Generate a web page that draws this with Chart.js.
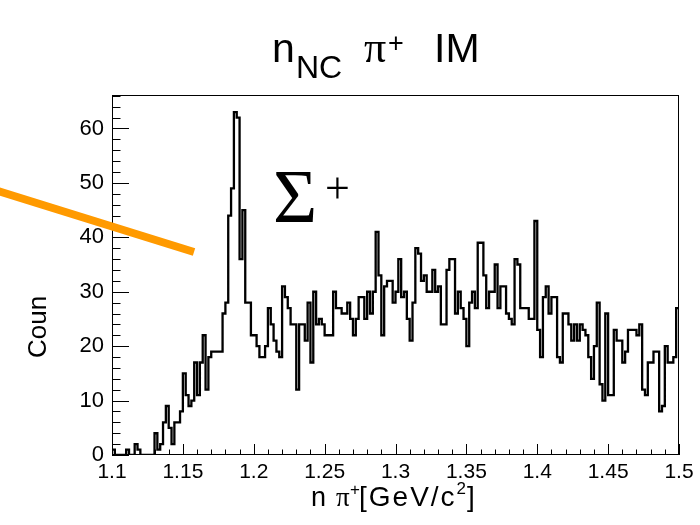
<!DOCTYPE html>
<html>
<head>
<meta charset="UTF-8">
<title>nNC pi+ IM</title>
<script src="https://cdn.jsdelivr.net/npm/chart.js@4.4.0/dist/chart.umd.min.js"></script>
<style>
  html, body { margin: 0; padding: 0; background: #fff; }
  #wrap { width: 700px; height: 525px; }
</style>
</head>
<body>
<div id="wrap"><canvas id="c" width="700" height="525"></canvas></div>
<script>
// 200 bins of 2 MeV between 1.1 and 1.5 GeV/c^2
const xMin = 1.1;
const xMax = 1.5;
const counts = [
  1, 0, 0, 0, 0,   1, 0, 0, 2, 1,   0, 0, 0, 0, 0,   4, 1, 2, 6, 9,
  5, 2, 6, 6, 8,   15, 11, 9, 10, 17,   11, 17, 22, 12, 18,   19, 19, 19, 19, 26,
  28, 44, 49, 63, 62,   36, 45, 28, 28, 22,   22, 20, 18, 18, 20,   27, 24, 21, 19, 18,
  31, 29, 27, 24, 24,   12, 24, 24, 21, 28,   17, 30, 24, 25, 24,   22, 22, 22, 30, 27,
  27, 26, 26, 28, 25,   22, 25, 29, 29, 25,   30, 26, 30, 41, 33,   22, 31, 32, 32, 28,
  30, 36, 29, 30, 25,   21, 28, 38, 37, 32,   33, 30, 30, 34, 30,   31, 24, 24, 34, 36,
  36, 26, 30, 27, 25,   20, 28, 30, 27, 39,   39, 33, 27, 30, 30,   35, 27, 31, 31, 26,
  25, 24, 36, 35, 27,   27, 27, 25, 25, 43,   23, 18, 29, 31, 26,   29, 29, 18, 17, 26,
  26, 24, 21, 24, 21,   24, 23, 22, 18, 14,   20, 28, 13, 10, 26,   11, 11, 23, 21, 21,
  17, 19, 23, 23, 23,   22, 24, 12, 11, 17,   17, 19, 19, 8, 9,   20, 17, 17, 18, 27
];
const xTickLabels = ['1.1', '1.15', '1.2', '1.25', '1.3', '1.35', '1.4', '1.45', '1.5'];
const yTickValues = [0, 10, 20, 30, 40, 50, 60];
const yMax = 63 * 1.05;

const binWidth = (xMax - xMin) / counts.length;
const outline = counts.map((v, i) => ({ x: xMin + i * binWidth, y: v }));
outline.push({ x: xMax, y: counts[counts.length - 1] });

// frame, inward ticks and the ROOT-style texts
const rootStyle = {
  id: 'rootStyle',
  afterDraw(chart) {
    const ctx = chart.ctx;
    const a = chart.chartArea;
    const xs = chart.scales.x, ys = chart.scales.y;
    ctx.save();
    ctx.strokeStyle = '#000';
    ctx.lineWidth = 1;
    ctx.strokeRect(a.left + 0.5, a.top + 0.5, a.right - a.left - 1, a.bottom - a.top - 1);

    ctx.beginPath();
    for (let k = 0; k <= 40; k++) {
      const px = Math.round(xs.getPixelForValue(xMin + k * 0.01)) + 0.5;
      const len = k % 5 === 0 ? 11 : 5.5;
      ctx.moveTo(px, a.bottom);
      ctx.lineTo(px, a.bottom - len);
    }
    for (let v = 0; v <= yMax; v += 2) {
      const py = Math.round(ys.getPixelForValue(v)) + 0.5;
      const len = v % 10 === 0 ? 17 : 8.5;
      ctx.moveTo(a.left, py);
      ctx.lineTo(a.left + len, py);
    }
    ctx.stroke();

    ctx.fillStyle = '#000';
    ctx.textBaseline = 'alphabetic';
    ctx.textAlign = 'left';

    // title
    ctx.font = '41px "Liberation Sans"';
    ctx.fillText('n', 272, 62);
    ctx.font = '32px "Liberation Sans"';
    ctx.fillText('NC', 296, 78);
    ctx.font = '44px "Liberation Serif"';
    ctx.fillText('\u03c0', 364, 62);
    ctx.font = '27px "Liberation Sans"';
    ctx.fillText('+', 388, 52);
    ctx.font = '41px "Liberation Sans"';
    ctx.fillText('IM', 434, 62);

    // Sigma+ label
    ctx.font = '76px "Liberation Serif"';
    ctx.fillText('\u03a3', 273, 222);
    ctx.font = '44px "Liberation Serif"';
    ctx.fillText('+', 325, 203);

    // x axis title
    const y0 = 506;
    ctx.font = '27px "Liberation Sans"';
    ctx.fillText('n', 311, y0);
    ctx.font = '27px "Liberation Serif"';
    ctx.fillText('\u03c0', 336, y0);
    ctx.font = '17px "Liberation Sans"';
    ctx.fillText('+', 350, y0 - 11);
    ctx.font = '28px "Liberation Sans"';
    ctx.letterSpacing = '2px';
    let x = 359;
    ctx.fillText('[GeV/c', x, y0); x += ctx.measureText('[GeV/c').width;
    ctx.letterSpacing = '0px';
    ctx.font = '17px "Liberation Sans"';
    ctx.fillText('2', x, y0 - 12); x += ctx.measureText('2').width + 1;
    ctx.font = '28px "Liberation Sans"';
    ctx.fillText(']', x, y0);

    // y axis title (cut in the source)
    ctx.save();
    ctx.translate(46, 358);
    ctx.rotate(-Math.PI / 2);
    ctx.font = '26px "Liberation Sans"';
    ctx.fillText('Coun', 0, 0);
    ctx.restore();

    // orange stroke over the plot
    ctx.strokeStyle = '#ff9a00';
    ctx.lineWidth = 8;
    ctx.lineCap = 'butt';
    ctx.beginPath();
    ctx.moveTo(-2, 191);
    ctx.lineTo(194, 252);
    ctx.stroke();
    ctx.restore();
  }
};

new Chart(document.getElementById('c'), {
  type: 'line',
  data: {
    datasets: [{
      data: outline,
      stepped: true,
      borderColor: '#000',
      borderWidth: 2.3,
      pointRadius: 0,
      fill: false
    }]
  },
  options: {
    responsive: false,
    animation: false,
    events: [],
    layout: { padding: { top: 95, right: 21, left: 0, bottom: 0 } },
    plugins: { legend: { display: false }, tooltip: { enabled: false } },
    scales: {
      x: {
        type: 'linear', min: xMin, max: xMax,
        grid: { display: false, drawTicks: false },
        border: { display: false },
        afterBuildTicks: s => { s.ticks = xTickLabels.map(t => ({ value: +t })); },
        afterFit: s => { s.height = 70; },
        ticks: {
          autoSkip: false, maxRotation: 0, padding: 5, color: '#000',
          font: { family: 'Liberation Sans', size: 21 },
          callback: (v, i) => xTickLabels[i]
        }
      },
      y: {
        min: 0, max: yMax,
        grid: { display: false, drawTicks: false },
        border: { display: false },
        afterBuildTicks: s => { s.ticks = yTickValues.map(v => ({ value: v })); },
        afterFit: s => { s.width = 112; },
        ticks: {
          padding: 8, color: '#000',
          font: { family: 'Liberation Sans', size: 22 },
          callback: v => String(v)
        }
      }
    }
  },
  plugins: [rootStyle]
});
</script>
</body>
</html>
